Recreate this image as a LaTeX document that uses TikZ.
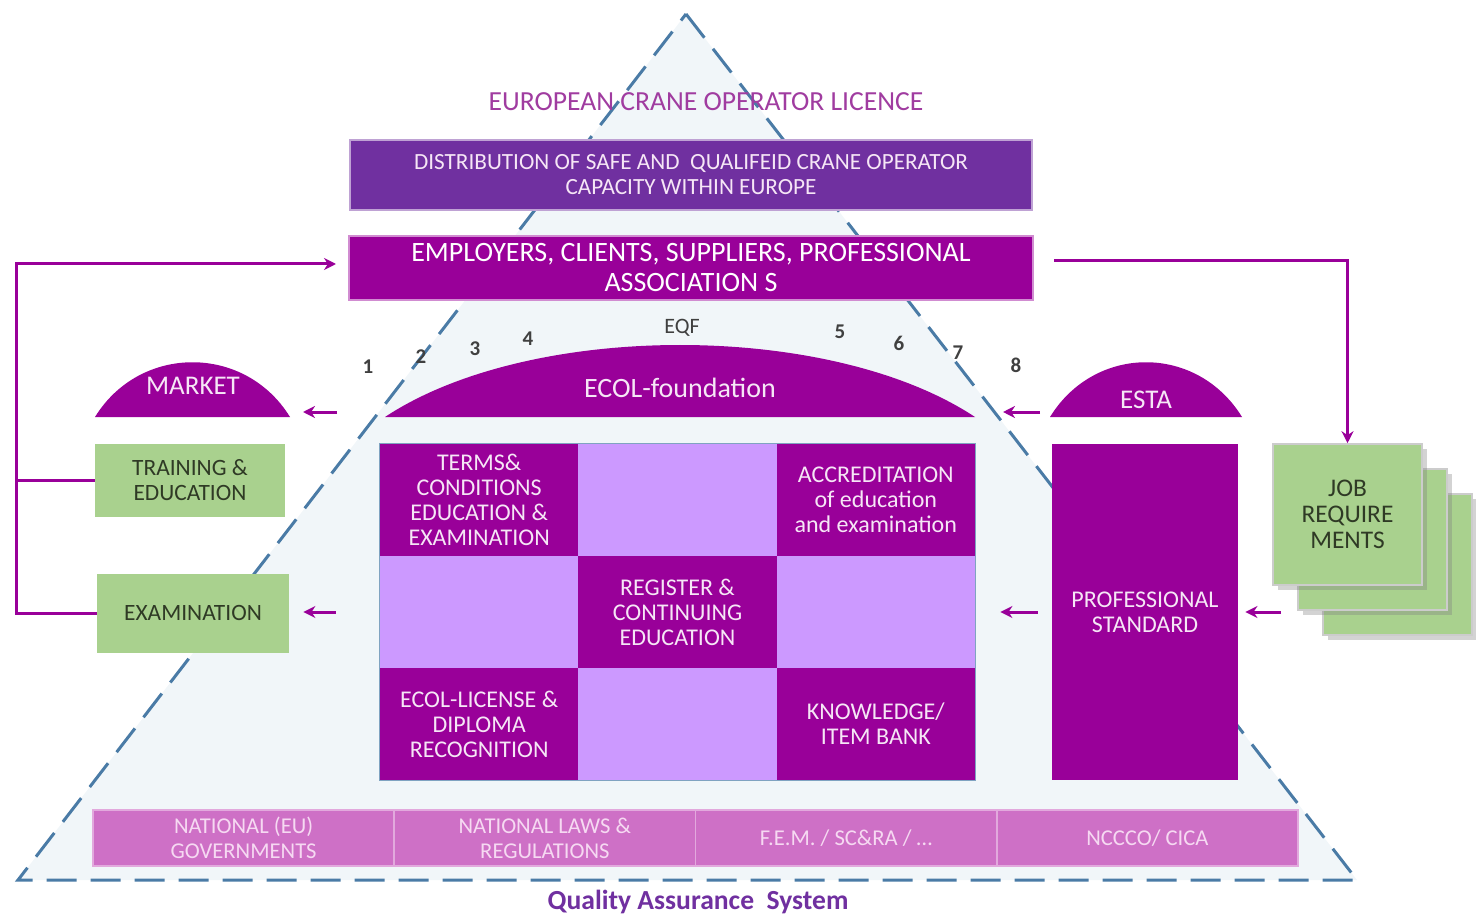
\documentclass[tikz,border=0pt]{standalone}
\usepackage{fontspec}
\setmainfont{Carlito}
\usepackage{tikz}
\usetikzlibrary{shapes,arrows,arrows.meta,positioning,shadows}

\definecolor{ecolpurple}{HTML}{990099}
\definecolor{distpurple}{HTML}{7030A0}
\definecolor{lilac}{HTML}{CC99FF}
\definecolor{leaf}{HTML}{A9D18E}
\definecolor{leaftext}{HTML}{2F3A25}
\definecolor{bandpink}{HTML}{CE70C6}
\definecolor{bandtext}{HTML}{F6D9F2}
\definecolor{dashblue}{HTML}{4A7BA6}
\definecolor{pyrfill}{HTML}{F1F6F9}
\definecolor{titlepurple}{HTML}{A03CA0}
\definecolor{paletext}{HTML}{F6E6F6}

\begin{document}
\begin{tikzpicture}[x=0.5pt,y=-0.5pt,>={Stealth[length=6pt,width=6pt]},
  pyramid/.style={draw=dashblue,fill=pyrfill,line width=1.5pt,dash pattern=on 15pt off 7pt},
  flow/.style={draw=ecolpurple,line width=1.5pt},
  darkcell/.style={rectangle,fill=ecolpurple,minimum width=99.2pt,minimum height=56pt,inner sep=0},
  lightcell/.style={rectangle,fill=lilac,minimum width=99.2pt,minimum height=56pt,inner sep=0},
  celltext/.style={text=paletext,align=center,font=\fontsize{12}{12.5}\selectfont},
  greenbox/.style={rectangle,fill=leaf,text=leaftext,align=center,inner sep=0,font=\fontsize{11.7}{12.5}\selectfont},
  jobbox/.style={rectangle,fill=leaf,draw=gray!40,line width=0.8pt,drop shadow={opacity=0.35},minimum width=74.5pt,minimum height=70.5pt,inner sep=0},
  bandcell/.style={rectangle,fill=bandpink,draw=bandpink!60!white,line width=0.8pt,text=bandtext,align=center,minimum width=150.6pt,minimum height=28pt,inner sep=0,font=\fontsize{11.3}{12.5}\selectfont},
  numlabel/.style={text=black!75,font=\fontsize{10.5}{11}\selectfont\bfseries}]
\useasboundingbox (0,0) rectangle (1476,914);

% pyramid
\filldraw[pyramid] (686,14) -- (1357,880) -- (18,880) -- cycle;

\node[text=titlepurple,font=\fontsize{13.8}{15}\selectfont] (title) at (706,102) {EUROPEAN CRANE OPERATOR LICENCE};
\node[rectangle,fill=distpurple,draw=distpurple!45!white,line width=1pt,text=paletext,align=center,
  minimum width=341pt,minimum height=35pt,inner sep=0,font=\fontsize{11.6}{12.5}\selectfont] (distrib) at (691,175)
  {DISTRIBUTION OF SAFE AND \ QUALIFEID CRANE OPERATOR\\CAPACITY WITHIN EUROPE};
\node[rectangle,fill=ecolpurple,draw=ecolpurple!45!white,line width=1pt,text=white,align=center,
  minimum width=342pt,minimum height=32pt,inner sep=0,font=\fontsize{14}{15}\selectfont] (employers) at (691,268)
  {EMPLOYERS, CLIENTS, SUPPLIERS, PROFESSIONAL\\ASSOCIATION S};

% domes
\fill[ecolpurple] (385,417) .. controls (530,321) and (830,321) .. (975,417) -- cycle;
\fill[ecolpurple] (95,417) .. controls (140,344) and (245,344) .. (290,417) -- cycle;
\fill[ecolpurple] (1050,417) .. controls (1095,344) and (1197,344) .. (1242,417) -- cycle;
\node[text=paletext,font=\fontsize{14}{15}\selectfont] (ecol) at (680,388) {ECOL-foundation};
\node[text=paletext,font=\fontsize{13.5}{14}\selectfont] (market) at (193,386) {MARKET};
\node[text=paletext,font=\fontsize{13.5}{14}\selectfont] (esta) at (1146,400) {ESTA};
\coordinate (ecolW) at (385,412);
\coordinate (ecolE) at (975,412);
\coordinate (marketE) at (290,412);
\coordinate (estaW) at (1050,412);

\node[text=black!75,font=\fontsize{11}{12}\selectfont] (eqf) at (682,328) {EQF};
\foreach \n/\x/\y in {1/368/367,2/421/357,3/475/349,4/528/339,5/840/332,6/899/343,7/958/353,8/1016/365}
  \node[numlabel] (n\n) at (\x,\y) {\n};

% centre grid
\foreach \x in {0,1,2}
 \foreach \y in {0,1,2}
{\pgfmathtruncatemacro{\odd}{mod(\x+\y,2)}
\ifnum\odd=0
  \node[darkcell] (c\x\y) at (479.2+198.3*\x,500+112*\y) {};
\else
  \node[lightcell] (c\x\y) at (479.2+198.3*\x,500+112*\y) {};
\fi
}
\draw[dashblue!70,line width=0.6pt] (c00.north west) rectangle (c22.south east);
\node[celltext] at (c00) {TERMS\&\\CONDITIONS\\EDUCATION \&\\EXAMINATION};
\node[celltext] at (c20) {ACCREDITATION\\of education\\and examination};
\node[celltext] at (c11) {REGISTER \&\\CONTINUING\\EDUCATION};
\node[celltext] at (c02) {ECOL-LICENSE \&\\DIPLOMA\\RECOGNITION};
\node[celltext] at (c22) {KNOWLEDGE/\\ITEM BANK};

% side blocks
\node[greenbox,minimum width=95pt,minimum height=36.5pt] (training) at (190,480) {TRAINING \&\\EDUCATION};
\node[greenbox,minimum width=96pt,minimum height=39.5pt] (exam) at (193,613) {EXAMINATION};
\node[rectangle,fill=ecolpurple,text=paletext,align=center,minimum width=93pt,minimum height=168pt,
  font=\fontsize{12}{12.5}\selectfont] (profstd) at (1145,612) {PROFESSIONAL\\STANDARD};
\node[jobbox] (job3) at (1397.5,564.5) {};
\node[jobbox] (job2) at (1372.5,539.5) {};
\node[jobbox,text=leaftext,align=center,font=\fontsize{12.7}{13}\selectfont] (jobreq) at (1347.5,514.5) {JOB\\REQUIRE\\MENTS};

% base band
\foreach \t [count=\i] in {{NATIONAL (EU)\\GOVERNMENTS},{NATIONAL LAWS \&\\REGULATIONS},{F.E.M. / SC\&RA / \ldots},{NCCCO/ CICA}}
  \node[bandcell] (band\i) at (93+150.6+301.25*\i-301.25,838) {\t};
\node[text=distpurple,font=\fontsize{13.8}{15}\selectfont\bfseries] (qas) at (698,902) {Quality Assurance \ System};

% connectors
\coordinate (loop) at (16,264);
\draw[flow,->,shorten >=6pt] (exam.west) -| (loop) -- (loop -| employers.west);
\draw[flow] (training.west) -- (training.west -| loop);
\draw[flow,->,shorten <=10pt] (employers.east |- 0,261) -| (jobreq.north);
\draw[flow,->,shorten <=24pt,shorten >=6.5pt] (ecolW) -- (marketE);
\draw[flow,->,shorten <=5pt,shorten >=14pt] (estaW) -- (ecolE);
\draw[flow,->,shorten <=22pt,shorten >=7pt] (c01.west) -- (exam.east |- c01.west);
\draw[flow,->,shorten <=7pt,shorten >=12.5pt] (profstd.west) -- (c21.east);
\draw[flow,->,shorten <=8pt,shorten >=3.5pt] (job2.west |- profstd.east) -- (profstd.east);
\end{tikzpicture}
\end{document}
